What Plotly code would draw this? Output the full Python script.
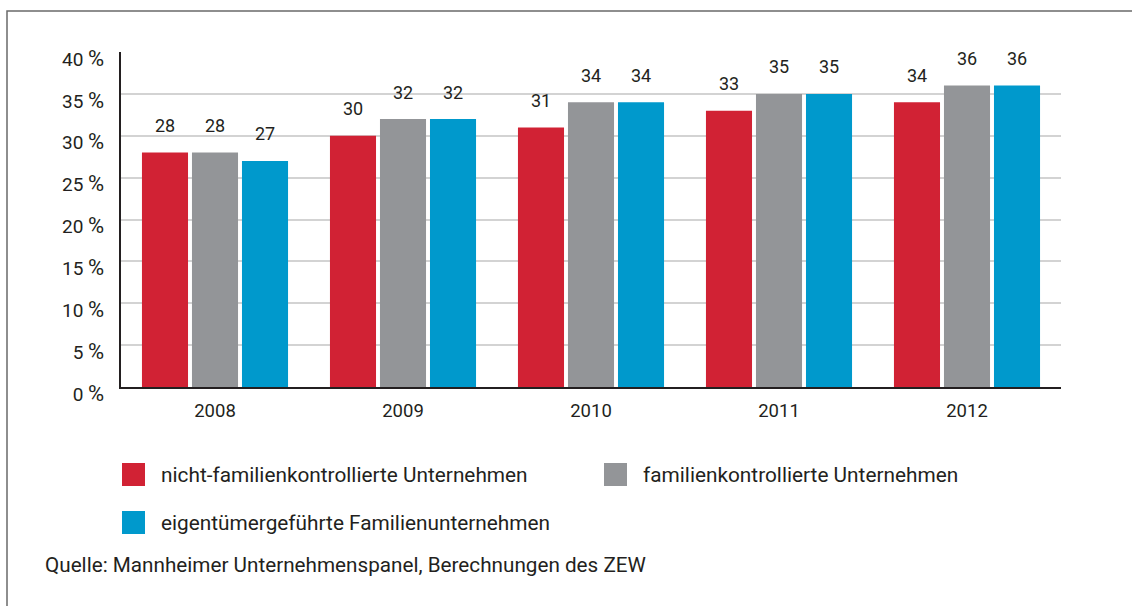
import plotly.graph_objects as go

years = [2008, 2009, 2010, 2011, 2012]
series_names = [
    "nicht-familienkontrollierte Unternehmen",
    "familienkontrollierte Unternehmen",
    "eigentümergeführte Familienunternehmen",
]
nicht_familien = [28, 30, 31, 33, 34]
familien = [28, 32, 34, 35, 36]
eigentuemer = [27, 32, 34, 35, 36]
y_ticks = [0, 5, 10, 15, 20, 25, 30, 35, 40]
y_tick_labels = [f"{v} <span style='font-size:22px'>%</span>" for v in y_ticks]
source_text = "Quelle: Mannheimer Unternehmenspanel, Berechnungen des ZEW"

colors = ["#d12234", "#939598", "#0099cc"]
values = [nicht_familien, familien, eigentuemer]

W, H = 1132, 606
L, R, T, B = 121, 71, 52, 219
PW, PH = W - L - R, H - T - B
FONT = "Roboto"
TXT = "#231f20"

def px_x(px):
    return (px - L) / PW

def px_y(py):
    return (H - B - py) / PH

bar_w = 0.245
pitch = 0.266
offsets = [-pitch - bar_w / 2, -bar_w / 2, pitch - bar_w / 2]

fig = go.Figure()
for name, vals, col, off in zip(series_names, values, colors, offsets):
    fig.add_trace(go.Bar(
        x=years, y=vals, name=name, marker=dict(color=col, line=dict(width=0)),
        width=bar_w, offset=off, showlegend=False, hoverinfo="x+y",
    ))
    for yr, v in zip(years, vals):
        fig.add_annotation(
            x=yr + off + bar_w / 2, y=v, text=str(v), showarrow=False,
            yshift=27, yanchor="middle", xanchor="center",
            font=dict(family=FONT, size=18, color=TXT),
        )

# manual legend
legend_pos = [(122, 474.5), (604, 474.5), (122, 522.5)]
for (lx, ly), name, col in zip(legend_pos, series_names, colors):
    fig.add_shape(type="rect", xref="paper", yref="paper",
                  x0=px_x(lx), x1=px_x(lx + 23), y0=px_y(ly - 11.5), y1=px_y(ly + 11.5),
                  fillcolor=col, line=dict(width=0))
    fig.add_annotation(xref="paper", yref="paper", x=px_x(lx + 37), y=px_y(ly),
                       text=name, showarrow=False, xanchor="left", yanchor="middle",
                       font=dict(family=FONT, size=20.8, color=TXT))

fig.add_annotation(xref="paper", yref="paper", x=px_x(43), y=px_y(565),
                   text=source_text, showarrow=False, xanchor="left", yanchor="middle",
                   font=dict(family=FONT, size=20.7, color=TXT))

# frame
fig.add_shape(type="rect", xref="paper", yref="paper",
              x0=px_x(7), x1=px_x(1145), y0=px_y(640), y1=px_y(11),
              line=dict(color="#6a6a6a", width=1.5), fillcolor="rgba(0,0,0,0)", layer="below")

fig.update_layout(
    width=W, height=H,
    margin=dict(l=L, r=R, t=T, b=B, pad=0),
    paper_bgcolor="white", plot_bgcolor="white",
    barmode="overlay",
    font=dict(family=FONT, size=18, color=TXT),
    xaxis=dict(
        range=[2007.5, 2012.5], tickvals=years, ticktext=[str(y) for y in years],
        showgrid=False, zeroline=False, showline=True, linecolor=TXT, linewidth=2,
        ticks="", tickfont=dict(family=FONT, size=18.5, color=TXT), ticklabelstandoff=6,
        fixedrange=True,
    ),
    yaxis=dict(
        range=[0, 40], tickvals=y_ticks, ticktext=y_tick_labels,
        showgrid=True, gridcolor="#d3d3d3", gridwidth=2,
        zeroline=False, showline=True, linecolor=TXT, linewidth=2,
        ticks="", tickfont=dict(family=FONT, size=19, color=TXT),
        ticklabelstandoff=11, ticklabelshift=7, fixedrange=True,
    ),
)

fig.write_html("out.html", config={"displayModeBar": False},
               post_script="document.body.style.margin='0';")
